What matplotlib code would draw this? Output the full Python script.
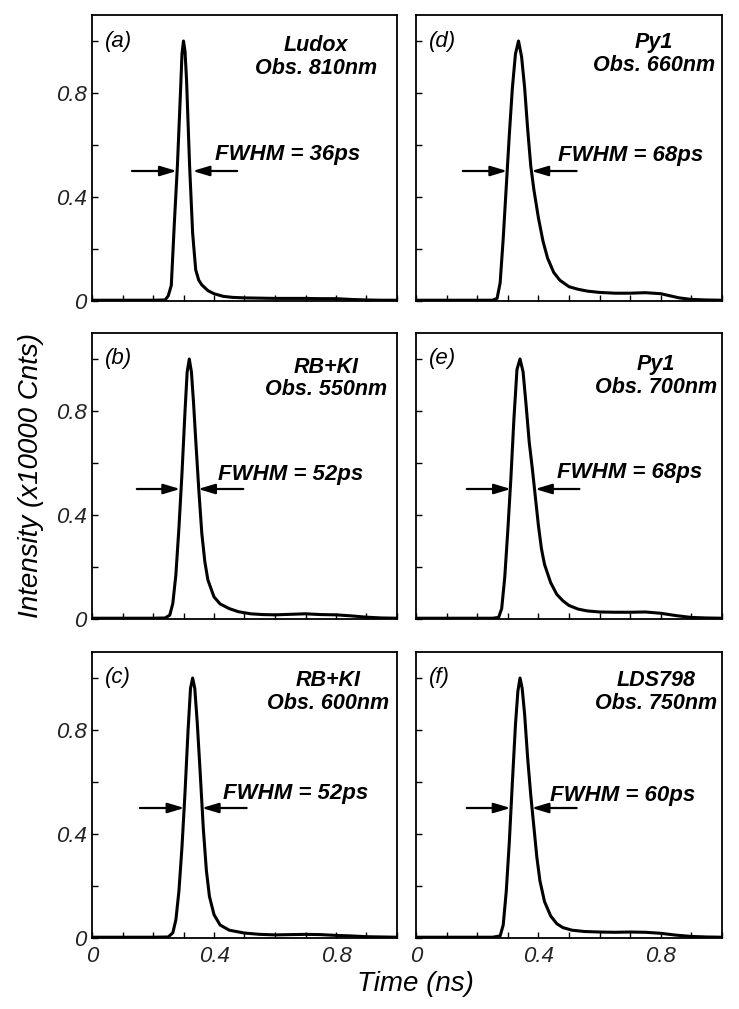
import numpy as np
import matplotlib
matplotlib.use('Agg')
import matplotlib.pyplot as plt

plt.rcParams['font.family'] = ['Liberation Sans', 'DejaVu Sans']
plt.rcParams['font.style'] = 'italic'

# time axis (ns) and normalised intensity
t_a = [0, 0.05, 0.10, 0.15, 0.20, 0.24, 0.25, 0.26, 0.27, 0.28, 0.29, 0.295, 0.300, 0.305,
       0.31, 0.32, 0.33, 0.34, 0.35, 0.36, 0.38, 0.40, 0.43, 0.46, 0.50, 0.55, 0.60, 0.65,
       0.70, 0.75, 0.80, 0.85, 0.90, 0.95, 1.00]
i_a = [0.003, 0.003, 0.003, 0.003, 0.003, 0.004, 0.02, 0.06, 0.30, 0.52, 0.80, 0.95, 1.00, 0.96,
       0.85, 0.52, 0.26, 0.12, 0.08, 0.062, 0.04, 0.028, 0.018, 0.014, 0.012, 0.011, 0.010, 0.010,
       0.010, 0.009, 0.009, 0.006, 0.004, 0.003, 0.003]

t_b = [0, 0.1, 0.2, 0.24, 0.255, 0.265, 0.275, 0.285, 0.295, 0.305, 0.312, 0.319, 0.326, 0.333,
       0.34, 0.35, 0.36, 0.37, 0.38, 0.40, 0.42, 0.45, 0.48, 0.52, 0.56, 0.60, 0.65, 0.70, 0.75,
       0.80, 0.85, 0.90, 0.95, 1.0]
i_b = [0.003, 0.003, 0.003, 0.004, 0.015, 0.06, 0.17, 0.35, 0.56, 0.80, 0.95, 1.0, 0.95, 0.83,
       0.69, 0.50, 0.33, 0.22, 0.15, 0.085, 0.058, 0.04, 0.028, 0.02, 0.017, 0.016, 0.018, 0.020,
       0.017, 0.016, 0.012, 0.007, 0.004, 0.003]

t_c = [0, 0.1, 0.2, 0.25, 0.265, 0.275, 0.285, 0.295, 0.305, 0.315, 0.323, 0.330, 0.337, 0.345,
       0.355, 0.365, 0.375, 0.385, 0.40, 0.42, 0.45, 0.50, 0.55, 0.60, 0.65, 0.70, 0.75, 0.80,
       0.85, 0.90, 0.95, 1.0]
i_c = [0.003, 0.003, 0.003, 0.004, 0.02, 0.07, 0.18, 0.35, 0.56, 0.80, 0.96, 1.0, 0.96, 0.83,
       0.63, 0.42, 0.26, 0.16, 0.09, 0.05, 0.03, 0.019, 0.014, 0.012, 0.013, 0.014, 0.013, 0.010,
       0.008, 0.005, 0.004, 0.003]

t_d = [0, 0.1, 0.2, 0.25, 0.265, 0.275, 0.285, 0.295, 0.305, 0.315, 0.325, 0.335, 0.345, 0.355,
       0.365, 0.375, 0.385, 0.40, 0.415, 0.43, 0.45, 0.47, 0.50, 0.53, 0.56, 0.60, 0.65, 0.70,
       0.75, 0.80, 0.83, 0.86, 0.90, 0.95, 1.0]
i_d = [0.003, 0.003, 0.003, 0.003, 0.01, 0.07, 0.24, 0.44, 0.64, 0.82, 0.95, 1.0, 0.94, 0.82,
       0.66, 0.52, 0.43, 0.32, 0.23, 0.165, 0.11, 0.08, 0.055, 0.045, 0.038, 0.033, 0.030, 0.030,
       0.032, 0.028, 0.020, 0.012, 0.006, 0.004, 0.003]

t_e = [0, 0.1, 0.2, 0.25, 0.27, 0.28, 0.29, 0.30, 0.31, 0.32, 0.33, 0.34, 0.35, 0.36, 0.37,
       0.38, 0.39, 0.40, 0.41, 0.42, 0.44, 0.46, 0.48, 0.50, 0.53, 0.56, 0.60, 0.65, 0.70, 0.75,
       0.80, 0.85, 0.90, 0.95, 1.0]
i_e = [0.003, 0.003, 0.003, 0.003, 0.006, 0.04, 0.16, 0.34, 0.54, 0.77, 0.96, 1.0, 0.95, 0.82,
       0.68, 0.58, 0.47, 0.36, 0.27, 0.21, 0.14, 0.095, 0.07, 0.052, 0.038, 0.031, 0.027, 0.026,
       0.026, 0.027, 0.022, 0.013, 0.006, 0.004, 0.003]

t_f = [0, 0.1, 0.2, 0.25, 0.275, 0.285, 0.295, 0.305, 0.315, 0.325, 0.333, 0.340, 0.347, 0.355,
       0.365, 0.375, 0.385, 0.395, 0.405, 0.42, 0.44, 0.46, 0.48, 0.51, 0.55, 0.60, 0.65, 0.70,
       0.75, 0.80, 0.85, 0.90, 0.95, 1.0]
i_f = [0.003, 0.003, 0.003, 0.003, 0.008, 0.05, 0.18, 0.37, 0.60, 0.82, 0.95, 1.0, 0.96, 0.86,
       0.69, 0.55, 0.43, 0.31, 0.22, 0.14, 0.085, 0.055, 0.04, 0.03, 0.025, 0.023, 0.022, 0.023,
       0.022, 0.018, 0.011, 0.006, 0.004, 0.003]

panel_tags = ['(a)', '(b)', '(c)', '(d)', '(e)', '(f)']
samples = ['Ludox\nObs. 810nm', 'RB+KI\nObs. 550nm', 'RB+KI\nObs. 600nm',
           'Py1\nObs. 660nm', 'Py1\nObs. 700nm', 'LDS798\nObs. 750nm']
fwhm_labels = ['FWHM = 36ps', 'FWHM = 52ps', 'FWHM = 52ps',
               'FWHM = 68ps', 'FWHM = 68ps', 'FWHM = 60ps']
curves = [(t_a, i_a), (t_b, i_b), (t_c, i_c), (t_d, i_d), (t_e, i_e), (t_f, i_f)]

# layout of annotations: (sample x, sample y, fwhm x, fwhm y, arrow l start, l end, r start, r end)
annot = [(0.735, 0.94, 0.403, 0.565, 0.131, 0.278, 0.476, 0.330),
         (0.767, 0.925, 0.413, 0.554, 0.147, 0.289, 0.496, 0.348),
         (0.774, 0.945, 0.430, 0.556, 0.157, 0.303, 0.507, 0.360),
         (0.778, 0.95, 0.464, 0.560, 0.153, 0.298, 0.525, 0.377),
         (0.784, 0.935, 0.460, 0.565, 0.166, 0.310, 0.534, 0.389),
         (0.784, 0.945, 0.438, 0.548, 0.166, 0.309, 0.525, 0.378)]

W, H = 739, 1009
fig = plt.figure(figsize=(W / 100, H / 100), dpi=100)

cols = [(92, 305), (416, 306)]
rows = [(15, 301), (333, 619), (652, 938)]

for k in range(6):
    c, r = k // 3, k % 3
    x0, w = cols[c]
    top, bot = rows[r]
    ax = fig.add_axes([x0 / W, 1 - bot / H, w / W, (bot - top) / H])
    t, y = curves[k]
    ax.plot(t, y, color='black', lw=2.2, solid_joinstyle='round')
    ax.set_xlim(0, 1.0)
    ax.set_ylim(0, 1.1)
    ax.set_xticks(np.arange(0, 1.01, 0.1))
    ax.set_yticks(np.arange(0, 1.01, 0.2))
    if r == 2:
        ax.set_xticklabels(['0', '', '', '', '0.4', '', '', '', '0.8', '', ''])
    else:
        ax.set_xticklabels([])
    if c == 0:
        ax.set_yticklabels(['0', '', '0.4', '', '0.8', ''])
    else:
        ax.set_yticklabels([])
    ax.tick_params(direction='in', length=4, width=1.0, labelsize=16, pad=4,
                   colors='black', labelcolor='#222222')
    ax.tick_params(axis='x', pad=6)
    for s in ax.spines.values():
        s.set_linewidth(1.3)

    sx, sy, fx, fy, l0, l1, r0, r1 = annot[k]
    ax.text(0.042, 1.0, panel_tags[k], fontsize=16, ha='left', va='center')
    ax.text(sx, sy, samples[k], fontsize=15.5, fontweight='bold', ha='center',
            va='center', multialignment='center', linespacing=1.12)
    ax.text(fx, fy, fwhm_labels[k], fontsize=16, fontweight='bold', ha='left', va='center')
    for a, b in [(l0, l1), (r0, r1)]:
        ax.annotate('', xy=(b, 0.5), xytext=(a, 0.5),
                    arrowprops=dict(arrowstyle='-|>,head_length=1.0,head_width=0.3',
                                    mutation_scale=10, lw=1.6, color='black',
                                    shrinkA=0, shrinkB=0))

fig.text(31 / W, 1 - 476 / H, 'Intensity (x10000 Cnts)', rotation=90, fontsize=20,
         ha='center', va='center')
fig.text(415 / W, 1 - 984 / H, 'Time (ns)', fontsize=20, ha='center', va='center')

fig.savefig('out.png', dpi=100)
